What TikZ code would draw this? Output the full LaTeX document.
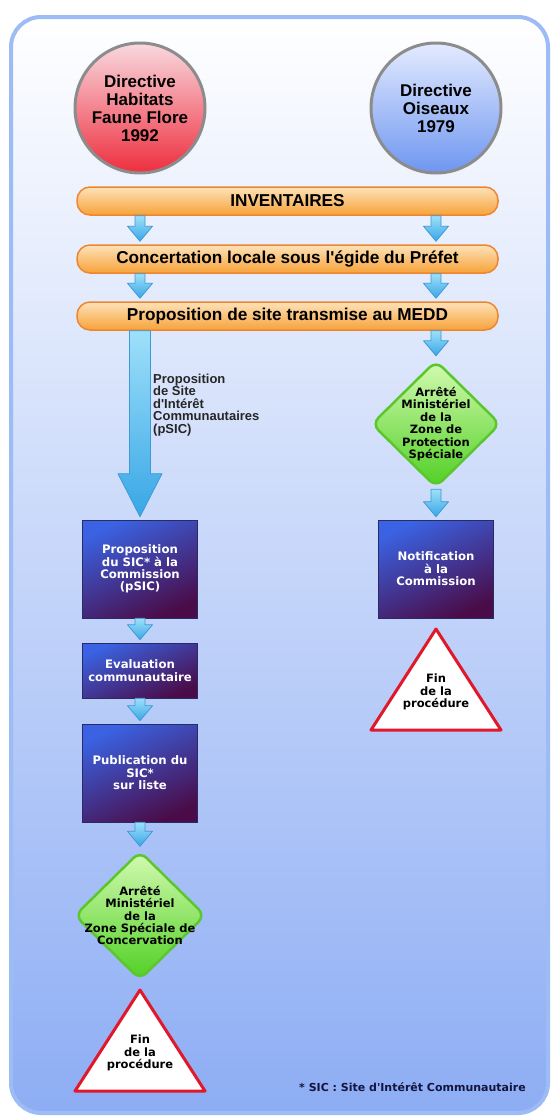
\documentclass[tikz,border=0pt]{standalone}
\usepackage{fontspec}
\setmainfont{Liberation Sans}
\newfontfamily\boxfont{DejaVu Sans}
\usepackage{tikz}
\usetikzlibrary{calc}

\definecolor{frameLine}{HTML}{9DBBF5}
\definecolor{frameBot}{HTML}{8DADF4}
\definecolor{redTop}{HTML}{F9D9DF}
\definecolor{redBot}{HTML}{EE2E3E}
\definecolor{blueTop}{HTML}{E4EBFF}
\definecolor{blueBot}{HTML}{6E96F0}
\definecolor{ringGray}{HTML}{8C8C8C}
\definecolor{barTop}{HTML}{FDE2B8}
\definecolor{barBot}{HTML}{F7A23A}
\definecolor{barLine}{HTML}{EE8630}
\definecolor{arrTop}{HTML}{9EE0FA}
\definecolor{arrBot}{HTML}{38A6E6}
\definecolor{arrLine}{HTML}{3E9AD6}
\definecolor{boxTop}{HTML}{3A62E2}
\definecolor{boxBot}{HTML}{4A0C48}
\definecolor{boxLine}{HTML}{2A2A66}
\definecolor{greenTop}{HTML}{D6FBB4}
\definecolor{greenBot}{HTML}{4ECF22}
\definecolor{greenLine}{HTML}{5CC62E}
\definecolor{finRed}{HTML}{E0182A}
\definecolor{noteBlue}{HTML}{14143E}

\tikzset{
  directive/.style={circle, draw=ringGray, line width=3pt,
    minimum size=130pt, inner sep=0pt, align=center,
    font=\bfseries\fontsize{17}{18}\selectfont},
  bar/.style={rectangle, rounded corners=13pt, draw=barLine, line width=1.5pt,
    top color=barTop, bottom color=barBot,
    minimum width=421pt, minimum height=28pt, inner sep=0pt,
    font=\bfseries\fontsize{17.2}{18}\selectfont},
  box/.style={rectangle, draw=boxLine, line width=0.6pt,
    top color=boxTop, bottom color=boxBot, shading angle=25,
    minimum width=115pt, inner sep=0pt, align=center, text=white,
    font=\boxfont\bfseries\fontsize{11.7}{12.4}\selectfont},
  decision/.style={rectangle, minimum width=132pt, minimum height=130pt,
    inner sep=0pt, align=center,
    font=\boxfont\bfseries\fontsize{11.5}{12.4}\selectfont,
    path picture={
      \draw[rounded corners=9pt, line width=2.5pt, draw=greenLine,
        top color=greenTop, bottom color=greenBot]
        ($(path picture bounding box.north)+(0,2)$)
        -- ($(path picture bounding box.east)+(-2,0)$)
        -- ($(path picture bounding box.south)+(0,-2)$)
        -- ($(path picture bounding box.west)+(2,0)$) -- cycle;}},
  fin/.style={rectangle, minimum width=140pt, minimum height=132pt,
    inner sep=0pt, align=center,
    font=\boxfont\bfseries\fontsize{11.5}{12.2}\selectfont,
    path picture={
      \draw[line width=3pt, draw=finRed, fill=white, line join=round]
        ($(path picture bounding box.center)+(-65,38)$)
        -- ($(path picture bounding box.center)+(65,38)$)
        -- ($(path picture bounding box.center)+(0,-63)$) -- cycle;}},
  flowarrow/.style={draw=arrLine, line width=0.8pt, line join=round,
    top color=arrTop, bottom color=arrBot},
  frame/.style={rounded corners=30pt, draw=frameLine, line width=4pt,
    top color=white, bottom color=frameBot}
}

% fat arrow: start, end, shaft half width, head half width, head length
\newcommand{\flowarrow}[5]{%
  \draw[flowarrow] let \p1=(#1), \p2=(#2) in
    (\x1-#3,\y1) -- (\x1+#3,\y1) -- (\x1+#3,\y2+3pt+#5) -- (\x1+#4,\y2+3pt+#5)
    -- (\x1,\y2+3pt) -- (\x1-#4,\y2+3pt+#5) -- (\x1-#3,\y2+3pt+#5) -- cycle;}

\begin{document}
\begin{tikzpicture}[x=1pt, y=-1pt]

\useasboundingbox (0,0) rectangle (552,1117);

% Background frame
\draw[frame] (11,17) rectangle (548,1113);

% Directives
\node[directive, top color=redTop, bottom color=redBot] (dHFF) at (140,108)
  {Directive\\Habitats\\Faune Flore\\1992};
\node[directive, top color=blueTop, bottom color=blueBot] (dOis) at (436,108)
  {Directive\\Oiseaux\\1979};

% Common steps
\node[bar] (inv) at (287.5,201) {INVENTAIRES};
\node[bar] (conc) at (287.5,259) {Concertation locale sous l\textquotesingle égide du Préfet};
\node[bar] (prop) at (287.5,316) {Proposition de site transmise au MEDD};

% Habitats branch
\node[box, minimum height=98pt] (pSIC) at (140,569)
  {Proposition\\du SIC* à la\\Commission\\(pSIC)};
\node[box, minimum height=55pt] (eval) at (140,670.5)
  {Evaluation\\communautaire};
\node[box, minimum height=98pt] (pub) at (140,773)
  {Publication du\\SIC*\\sur liste};
\node[decision, minimum width=134pt, minimum height=132pt] (dZSC) at (140,915.5)
  {Arrêté\\Ministériel\\de la\\Zone Spéciale de\\Concervation};
\node[fin] (finL) at (140,1053) {Fin\\de la\\procédure};

% Oiseaux branch
\node[decision] (dZPS) at (436,424)
  {Arrêté\\Ministériel\\de la\\Zone de\\Protection\\Spéciale};
\node[box, minimum height=98pt] (notif) at (436,569)
  {Notification\\à la\\Commission};
\node[fin] (finR) at (436,692) {Fin\\de la\\procédure};

% Arrows
\flowarrow{inv.south -| dHFF}{conc.north}{5pt}{12.5pt}{15pt}
\flowarrow{inv.south -| dOis}{conc.north}{5pt}{12.5pt}{15pt}
\flowarrow{conc.south -| dHFF}{prop.north}{5pt}{12.5pt}{15pt}
\flowarrow{conc.south -| dOis}{prop.north}{5pt}{12.5pt}{15pt}
\flowarrow{prop.south -| dHFF}{pSIC.north}{10.5pt}{22pt}{43pt}
\flowarrow{prop.south -| dOis}{dZPS.north}{5pt}{12.5pt}{15pt}
\flowarrow{dZPS.south}{notif.north}{5pt}{12.5pt}{15pt}
\flowarrow{pSIC.south}{eval.north}{5pt}{12.5pt}{15pt}
\flowarrow{eval.south}{pub.north}{5pt}{12.5pt}{15pt}
\flowarrow{pub.south}{dZSC.north}{5pt}{12.5pt}{15pt}

% Labels
\node[anchor=west, align=left, inner sep=0pt, text=black!85,
  font=\bfseries\fontsize{13}{12.5}\selectfont] (lblSIC) at (153,405)
  {Proposition\\de Site\\d\textquotesingle Intérêt\\Communautaires\\(pSIC)};
\node[anchor=east, inner sep=0pt, text=noteBlue,
  font=\boxfont\bfseries\fontsize{11}{12}\selectfont] (note) at (526,1087)
  {* SIC : Site d'Intérêt Communautaire};

\end{tikzpicture}
\end{document}
